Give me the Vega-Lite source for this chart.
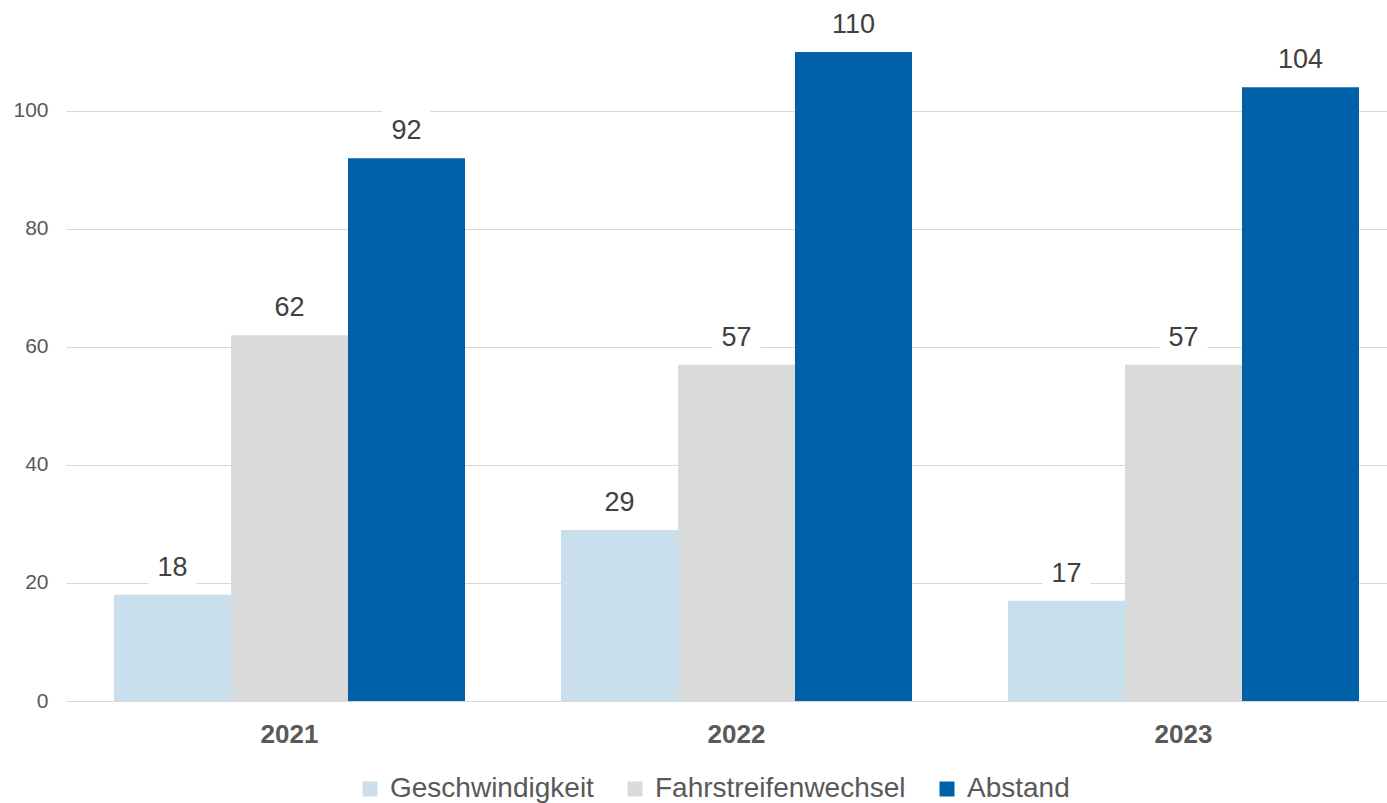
{
  "$schema": "https://vega.github.io/schema/vega-lite/v6.json",
  "width": 1321,
  "height": 701,
  "autosize": {"type": "none"},
  "padding": {"left": 66, "top": 0, "right": 0, "bottom": 102},
  "config": {"view": {"stroke": null}, "font": "Liberation Sans"},
  "data": {
    "values": [
      {"Jahr": "2021", "Kategorie": "Geschwindigkeit", "Anzahl": 18},
      {"Jahr": "2021", "Kategorie": "Fahrstreifenwechsel", "Anzahl": 62},
      {"Jahr": "2021", "Kategorie": "Abstand", "Anzahl": 92},
      {"Jahr": "2022", "Kategorie": "Geschwindigkeit", "Anzahl": 29},
      {"Jahr": "2022", "Kategorie": "Fahrstreifenwechsel", "Anzahl": 57},
      {"Jahr": "2022", "Kategorie": "Abstand", "Anzahl": 110},
      {"Jahr": "2023", "Kategorie": "Geschwindigkeit", "Anzahl": 17},
      {"Jahr": "2023", "Kategorie": "Fahrstreifenwechsel", "Anzahl": 57},
      {"Jahr": "2023", "Kategorie": "Abstand", "Anzahl": 104}
    ]
  },
  "encoding": {
    "x": {
      "field": "Jahr",
      "type": "nominal",
      "scale": {"range": [0, 1341], "paddingInner": 0.2148, "paddingOuter": 0.1074},
      "axis": {
        "title": null,
        "labelAngle": 0,
        "domain": false,
        "ticks": false,
        "grid": false,
        "labelFontSize": 26,
        "labelFontWeight": "bold",
        "labelColor": "#595959",
        "labelPadding": 20
      }
    },
    "xOffset": {
      "field": "Kategorie",
      "type": "nominal",
      "sort": ["Geschwindigkeit", "Fahrstreifenwechsel", "Abstand"],
      "scale": {"paddingInner": 0, "paddingOuter": 0}
    },
    "y": {
      "field": "Anzahl",
      "type": "quantitative",
      "scale": {"domain": [0, 118.8], "nice": false},
      "axis": {
        "title": null,
        "values": [0, 20, 40, 60, 80, 100],
        "domain": false,
        "ticks": false,
        "labelPadding": 18,
        "labelFontSize": 21,
        "labelColor": "#595959",
        "gridColor": "#D9D9D9",
        "gridWidth": 1
      }
    }
  },
  "layer": [
    {
      "mark": {"type": "bar"},
      "encoding": {
        "color": {
          "field": "Kategorie",
          "type": "nominal",
          "sort": ["Geschwindigkeit", "Fahrstreifenwechsel", "Abstand"],
          "scale": {
            "domain": ["Geschwindigkeit", "Fahrstreifenwechsel", "Abstand"],
            "range": ["#C9DFED", "#D9DADA", "#0061A8"]
          },
          "legend": {
            "title": null,
            "orient": "none",
            "legendX": 290,
            "legendY": 775,
            "direction": "horizontal",
            "symbolType": "square",
            "symbolSize": 225,
            "symbolStrokeWidth": 0,
            "symbolOpacity": 1,
            "labelFontSize": 28,
            "labelLimit": 0,
            "labelColor": "#595959",
            "columnPadding": 27,
            "labelOffset": 6,
            "padding": 0
          }
        }
      }
    },
    {
      "mark": {
        "type": "point",
        "shape": "M-1.2,-1H1.2V1H-1.2Z",
        "size": 1600,
        "filled": true,
        "color": "white",
        "opacity": 1,
        "strokeWidth": 0,
        "yOffset": -28
      }
    },
    {
      "mark": {
        "type": "text",
        "dy": -27,
        "fontSize": 27,
        "color": "#404040",
        "baseline": "middle"
      },
      "encoding": {"text": {"field": "Anzahl", "type": "quantitative"}}
    }
  ]
}
